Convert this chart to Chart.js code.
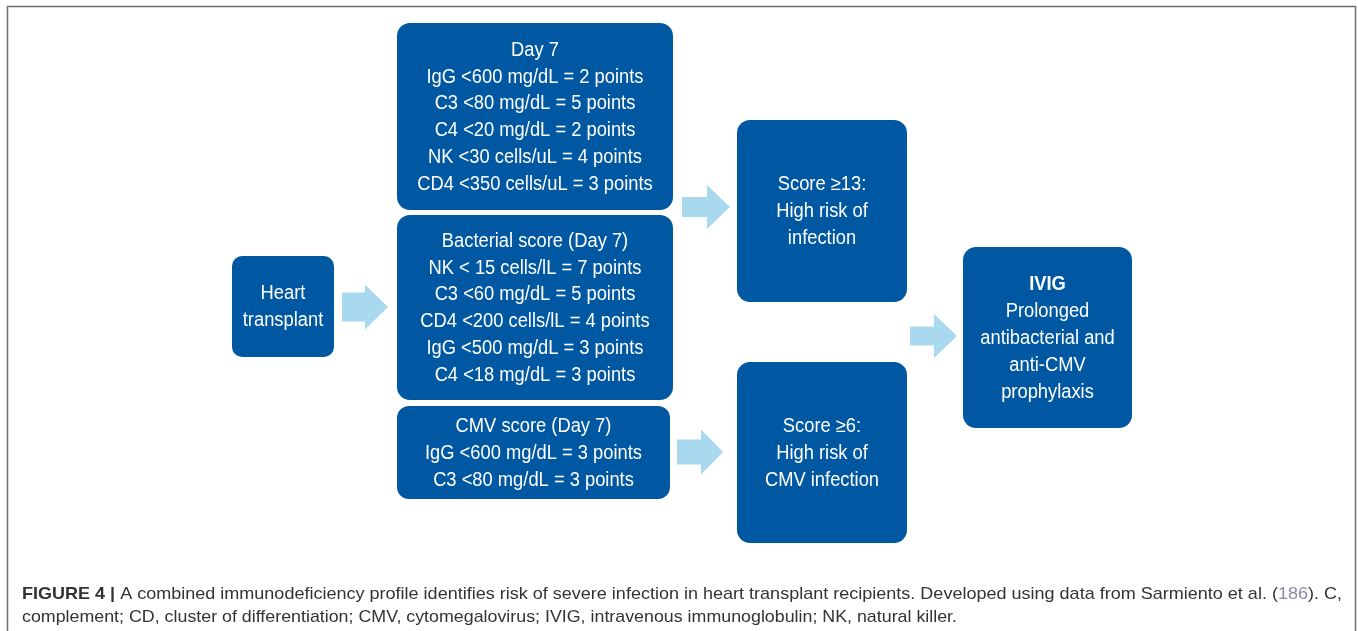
<!DOCTYPE html>
<html>
<head>
<meta charset="utf-8">
<script src="https://cdn.jsdelivr.net/npm/chart.js@4.4.0/dist/chart.umd.min.js"></script>
<style>
  html, body { margin: 0; padding: 0; background: #fff; overflow: hidden; }
  #wrap { width: 1358px; height: 631px; }
</style>
</head>
<body>
<div id="wrap"><canvas id="canvas"></canvas></div>
<script>
// box texts, one array per box
const heartText = ['Heart', 'transplant'];
const day7Text = ['Day 7', 'IgG <600 mg/dL = 2 points', 'C3 <80 mg/dL = 5 points', 'C4 <20 mg/dL = 2 points', 'NK <30 cells/uL = 4 points', 'CD4 <350 cells/uL = 3 points'];
const bacterialText = ['Bacterial score (Day 7)', 'NK < 15 cells/lL = 7 points', 'C3 <60 mg/dL = 5 points', 'CD4 <200 cells/lL = 4 points', 'IgG <500 mg/dL = 3 points', 'C4 <18 mg/dL = 3 points'];
const cmvText = ['CMV score (Day 7)', 'IgG <600 mg/dL = 3 points', 'C3 <80 mg/dL = 3 points'];
const score13Text = ['Score \u226513:', 'High risk of', 'infection'];
const score6Text = ['Score \u22656:', 'High risk of', 'CMV infection'];
const ivigText = ['IVIG', 'Prolonged', 'antibacterial and', 'anti-CMV', 'prophylaxis'];

const captionBold = 'FIGURE 4 | ';
const captionLine1 = 'A combined immunodeficiency profile identifies risk of severe infection in heart transplant recipients. Developed using data from Sarmiento et al. (';
const captionRef = '186';
const captionEnd1 = '). C,';
const captionLine2 = 'complement; CD, cluster of differentiation; CMV, cytomegalovirus; IVIG, intravenous immunoglobulin; NK, natural killer.';

// layout in axis units (x: 0..1358, y: 0..631 top-down)
const layout = {
  boxes: [
    { text: heartText, x0: 232, x1: 334, y0: 256, y1: 357, r: 10 },
    { text: day7Text, x0: 397, x1: 673, y0: 23, y1: 210, r: 13 },
    { text: bacterialText, x0: 397, x1: 673, y0: 215, y1: 400, r: 13 },
    { text: cmvText, x0: 397, x1: 670, y0: 406, y1: 499, r: 12 },
    { text: score13Text, x0: 737, x1: 907, y0: 120, y1: 302, r: 13 },
    { text: score6Text, x0: 737, x1: 907, y0: 362, y1: 543, r: 13 },
    { text: ivigText, x0: 963, x1: 1132, y0: 247, y1: 428, r: 13, boldFirst: true }
  ],
  arrows: [
    { x0: 342, x1: 388, y: 307, shaft: 14.5, head: 22.5, len: 23 },
    { x0: 682, x1: 730, y: 207, shaft: 10, head: 22, len: 23 },
    { x0: 910, x1: 957, y: 336, shaft: 9.5, head: 22, len: 23 },
    { x0: 677, x1: 723, y: 452, shaft: 12.5, head: 22.5, len: 22 }
  ]
};

const boxBlue = '#0058a3';
const arrowBlue = '#a9d9ef';

const flowPlugin = {
  id: 'flow',
  afterDatasetsDraw(chart) {
    const ctx = chart.ctx;
    const xs = chart.scales.x, ys = chart.scales.y;
    const px = v => xs.getPixelForValue(v);
    const py = v => ys.getPixelForValue(v);
    ctx.save();

    // outer frame
    ctx.strokeStyle = '#6e6e6e';
    ctx.lineWidth = 1.5;
    ctx.beginPath();
    ctx.moveTo(px(7.5), py(631));
    ctx.lineTo(px(7.5), py(6.5));
    ctx.lineTo(px(1355.5), py(6.5));
    ctx.lineTo(px(1355.5), py(631));
    ctx.stroke();

    // arrows
    ctx.fillStyle = arrowBlue;
    layout.arrows.forEach(a => {
      const xa = px(a.x0), xb = px(a.x1), xh = px(a.x1 - a.len);
      const yc = py(a.y);
      ctx.beginPath();
      ctx.moveTo(xa, yc - a.shaft);
      ctx.lineTo(xh, yc - a.shaft);
      ctx.lineTo(xh, yc - a.head);
      ctx.lineTo(xb, yc);
      ctx.lineTo(xh, yc + a.head);
      ctx.lineTo(xh, yc + a.shaft);
      ctx.lineTo(xa, yc + a.shaft);
      ctx.closePath();
      ctx.fill();
    });

    // boxes
    const squeeze = 0.94;
    layout.boxes.forEach(b => {
      const x0 = px(b.x0), x1 = px(b.x1), y0 = py(b.y0), y1 = py(b.y1);
      ctx.fillStyle = boxBlue;
      ctx.beginPath();
      ctx.roundRect(x0, y0, x1 - x0, y1 - y0, b.r);
      ctx.fill();
      const lh = 26.9;
      const cx = (x0 + x1) / 2, cy = (y0 + y1) / 2;
      const top = cy - (b.text.length - 1) * lh / 2;
      ctx.fillStyle = '#ffffff';
      ctx.textAlign = 'center';
      ctx.textBaseline = 'middle';
      ctx.save();
      ctx.translate(cx, 0);
      ctx.scale(squeeze, 1);
      b.text.forEach((t, i) => {
        ctx.font = (b.boldFirst && i === 0 ? 'bold ' : '') + '19.5px "Liberation Sans", Arial, sans-serif';
        ctx.fillText(t, 0, top + i * lh + 1);
      });
      ctx.restore();
    });

    // caption
    ctx.textAlign = 'left';
    ctx.textBaseline = 'alphabetic';
    const fBold = 'bold 17px "Liberation Sans", Arial, sans-serif';
    const fReg = '17px "Liberation Sans", Arial, sans-serif';
    ctx.font = fBold;
    const wB = ctx.measureText(captionBold).width;
    ctx.font = fReg;
    const w1 = ctx.measureText(captionLine1).width;
    const wR = ctx.measureText(captionRef).width;
    const wE = ctx.measureText(captionEnd1).width;
    const w2 = ctx.measureText(captionLine2).width;
    const k = 1320 / (wB + w1 + wR + wE);
    ctx.save();
    ctx.translate(px(22), 0);
    ctx.scale(k, 1);
    let cx = 0;
    const y1 = py(599);
    ctx.fillStyle = '#333333';
    ctx.font = fBold;
    ctx.fillText(captionBold, cx, y1); cx += wB;
    ctx.font = fReg;
    ctx.fillText(captionLine1, cx, y1); cx += w1;
    ctx.fillStyle = '#8a8aa8';
    ctx.fillText(captionRef, cx, y1); cx += wR;
    ctx.fillStyle = '#333333';
    ctx.fillText(captionEnd1, cx, y1);
    ctx.restore();
    ctx.save();
    ctx.translate(px(22), 0);
    ctx.scale(935 / w2, 1);
    ctx.fillStyle = '#333333';
    ctx.font = fReg;
    ctx.fillText(captionLine2, 0, py(622));
    ctx.restore();

    ctx.restore();
  }
};

const ctxC = document.getElementById('canvas').getContext('2d');
const myChart = new Chart(ctxC, {
  type: 'scatter',
  data: {
    datasets: [{
      label: 'boxes',
      data: layout.boxes.map(b => ({ x: (b.x0 + b.x1) / 2, y: (b.y0 + b.y1) / 2 })),
      pointRadius: 0
    }]
  },
  options: {
    responsive: true,
    maintainAspectRatio: false,
    animation: false,
    layout: { padding: 0 },
    plugins: { legend: { display: false }, tooltip: { enabled: false } },
    scales: {
      x: { type: 'linear', min: 0, max: 1358, display: false },
      y: { type: 'linear', min: 0, max: 631, reverse: true, display: false }
    }
  },
  plugins: [flowPlugin]
});
</script>
</body>
</html>
